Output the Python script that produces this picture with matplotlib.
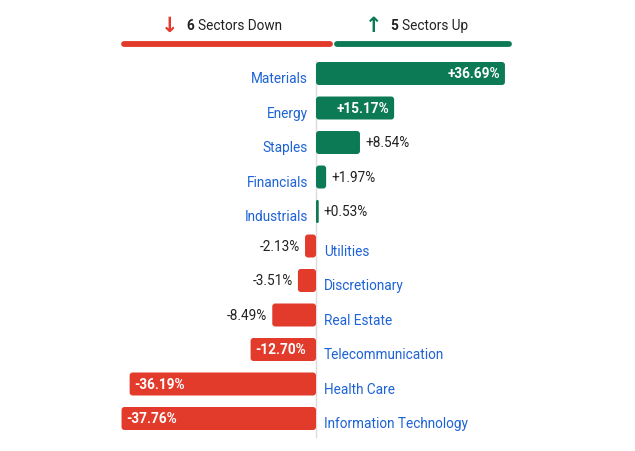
import matplotlib
matplotlib.use("Agg")
import matplotlib.pyplot as plt
from matplotlib.patches import FancyBboxPatch
from matplotlib.lines import Line2D

sectors = ["Materials", "Energy", "Staples", "Financials", "Industrials",
           "Utilities", "Discretionary", "Real Estate", "Telecommunication",
           "Health Care", "Information Technology"]
changes = [36.69, 15.17, 8.54, 1.97, 0.53, -2.13, -3.51, -8.49, -12.70, -36.19, -37.76]
n_down = sum(1 for v in changes if v < 0)
n_up = sum(1 for v in changes if v > 0)

GREEN = "#0d7a56"
RED = "#e23a2b"
BLUE = "#1e63d6"
DARK = "#222222"
FONT = "Roboto"
FS = 9.8

W, H = 635, 452
fig = plt.figure(figsize=(W / 100, H / 100), dpi=100)
ax = fig.add_axes([0, 0, 1, 1])
zero_px = 316
px_per_unit = 5.15
row0_px = 74.5
row_px = 34.5
ax.set_xlim(-zero_px / px_per_unit, (W - zero_px) / px_per_unit)
ax.set_ylim((H - row0_px) / row_px, -row0_px / row_px)
ax.axis("off")

ys = list(range(len(sectors)))
colors = [GREEN if v >= 0 else RED for v in changes]
bars = ax.barh(ys, changes, height=23 / row_px, color=colors)

# replace rectangles with rounded ones
ux = 3 / px_per_unit
uy = 3 / row_px
for rect, c in zip(bars.patches, colors):
    x0, y0 = rect.get_x(), rect.get_y()
    w, h = rect.get_width(), rect.get_height()
    if w < 0:
        x0, w = x0 + w, -w
    rs = min(ux, w / 2)
    p = FancyBboxPatch((x0, y0), w, h,
                       boxstyle=f"round,pad=0,rounding_size={rs}",
                       mutation_aspect=uy / ux if rs > 0 else 1,
                       facecolor=c, edgecolor="none", zorder=2)
    rect.set_visible(False)
    ax.add_patch(p)

# zero axis line
ax.plot([0, 0], [-0.36, 10.55], color="#dcdcdc", lw=1, zorder=1)

gap = 5 / px_per_unit
name_off = 5 / row_px
for y, name, v in zip(ys, sectors, changes):
    label = f"{v:+.2f}%"
    inside = abs(v) > 12
    if v >= 0:
        ax.text(-8 / px_per_unit, y + name_off, name, ha="right", va="center",
                color=BLUE, fontsize=FS, family=FONT)
        if inside:
            ax.text(v - gap, y, label, ha="right", va="center", color="white",
                    fontsize=FS, fontweight="bold", family=FONT, zorder=3)
        else:
            ax.text(v + gap, y, label, ha="left", va="center", color=DARK,
                    fontsize=FS, family=FONT, zorder=3)
    else:
        ax.text(8 / px_per_unit, y + name_off, name, ha="left", va="center",
                color=BLUE, fontsize=FS, family=FONT)
        if inside:
            ax.text(v + gap, y, label, ha="left", va="center", color="white",
                    fontsize=FS, fontweight="bold", family=FONT, zorder=3)
        else:
            ax.text(v - gap, y, label, ha="right", va="center", color=DARK,
                    fontsize=FS, family=FONT, zorder=3)

# header
def fx(px):
    return px / W

def fy(py):
    return 1 - py / H

fig.add_artist(Line2D([fx(123.5), fx(330)], [fy(44.5), fy(44.5)], color=RED, lw=4.2,
                      solid_capstyle="round"))
fig.add_artist(Line2D([fx(337), fx(509)], [fy(44.5), fy(44.5)], color=GREEN, lw=4.2,
                      solid_capstyle="round"))

fig.text(fx(170), fy(26), "↓", ha="center", va="center", color=RED, fontsize=15,
         fontweight="bold", family="DejaVu Sans")
fig.text(fx(186), fy(26), str(n_down), ha="left", va="center", color=DARK, fontsize=FS,
         fontweight="bold", family=FONT)
fig.text(fx(198), fy(26), "Sectors Down", ha="left", va="center", color=DARK, fontsize=FS,
         family=FONT)
fig.text(fx(374), fy(26), "↑", ha="center", va="center", color=GREEN, fontsize=15,
         fontweight="bold", family="DejaVu Sans")
fig.text(fx(390), fy(26), str(n_up), ha="left", va="center", color=DARK, fontsize=FS,
         fontweight="bold", family=FONT)
fig.text(fx(402), fy(26), "Sectors Up", ha="left", va="center", color=DARK, fontsize=FS,
         family=FONT)

fig.savefig("out.png", dpi=100, facecolor="white")
